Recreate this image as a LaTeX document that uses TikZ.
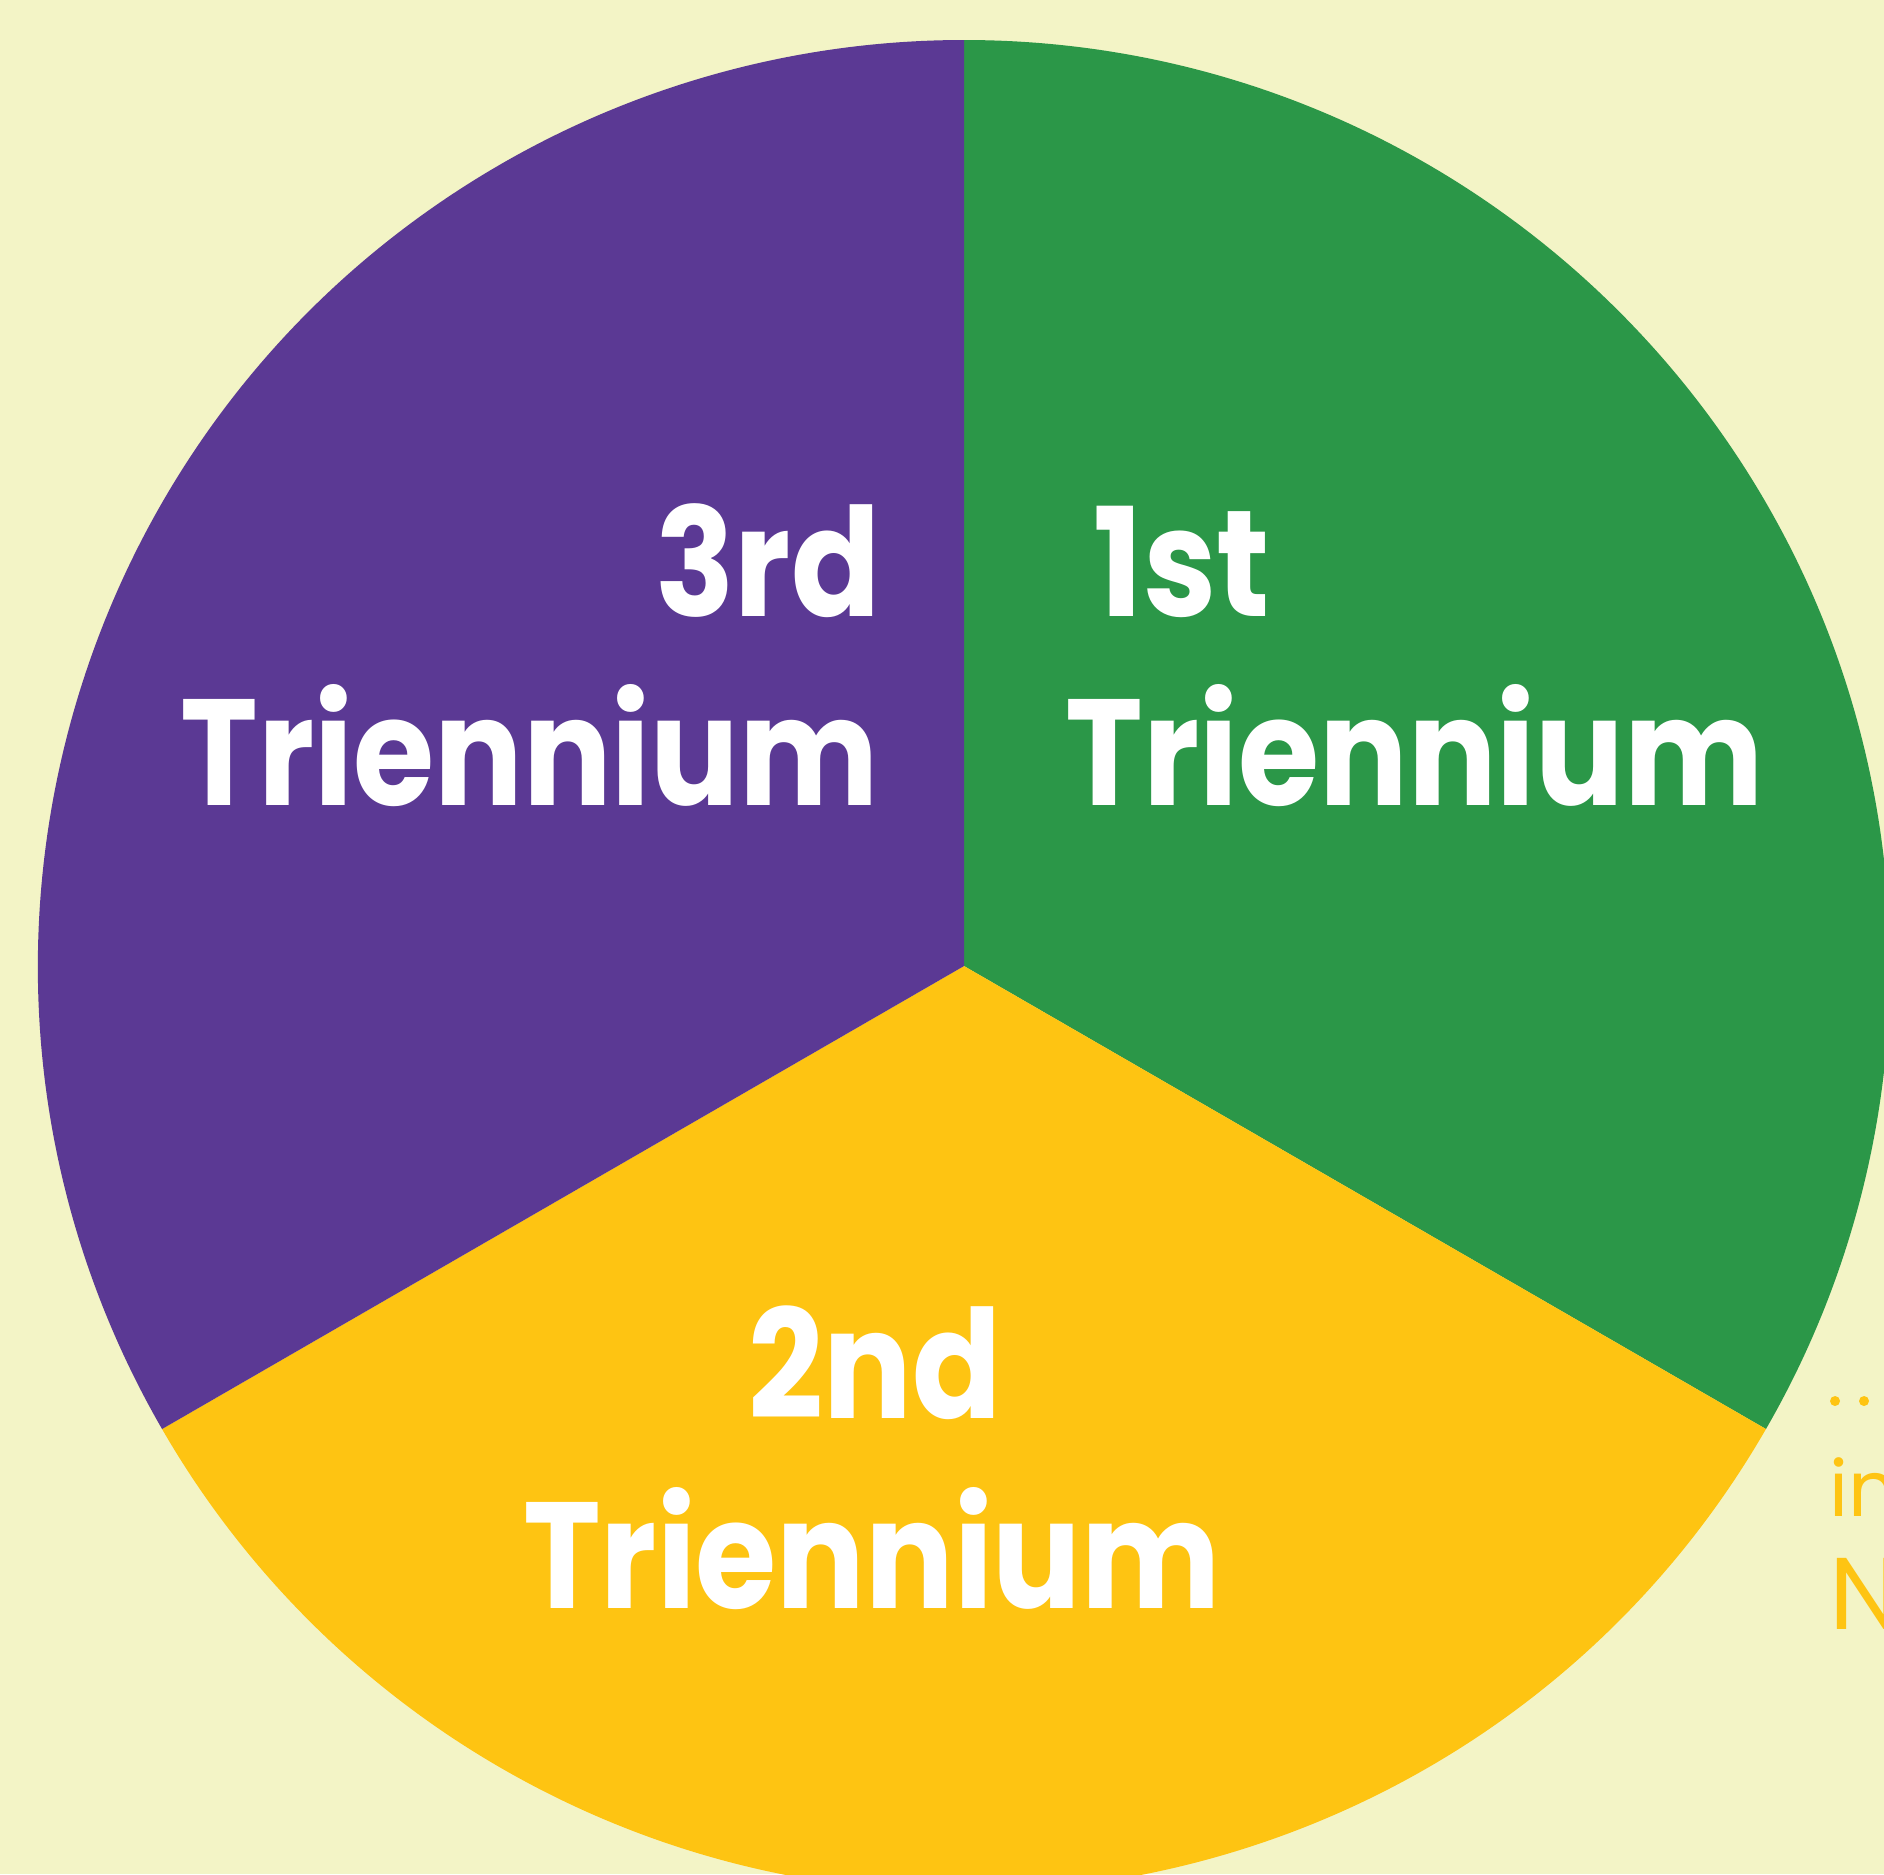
\documentclass[tikz,border=0pt]{standalone}
\usepackage{fontspec}
\setmainfont{Poppins}
\newfontfamily\tripfont{Poppins}[FakeStretch=0.87]
\usepackage{tikz}
\usetikzlibrary{positioning}

\definecolor{bgcream}{HTML}{F3F4C6}
\definecolor{triPurple}{HTML}{5B3994}
\definecolor{triGreen}{HTML}{2B9748}
\definecolor{triYellow}{HTML}{FEC412}

\begin{document}
\begin{tikzpicture}[x=0.1mm,y=-0.1mm,
  num/.style={text=white, font=\tripfont\fontsize{43}{43}\selectfont\bfseries, inner sep=0pt},
  word/.style={text=white, font=\tripfont\fontsize{43}{43}\selectfont\bfseries, inner sep=0pt},
  edgetxt/.style={text=triYellow, inner sep=0pt},
]

% --- page frame: the wheel runs off the right and bottom edges ---
\fill[bgcream] (0,0) rectangle (1884,1874);
\useasboundingbox (0,0) rectangle (1884,1874);
\clip (0,0) rectangle (1884,1874);

% --- wheel: centre and radius in pixels of the reference ---
\def\cx{964}\def\cy{966}\def\rad{926}
\coordinate (hub) at (\cx,\cy);

% three equal sectors (y axis points down, so angles run clockwise)
\fill[triGreen]  (hub) -- ++(-90:\rad) arc[start angle=-90, end angle=30, radius=\rad] -- cycle;
\fill[triYellow] (hub) -- ++(30:\rad) arc[start angle=30, end angle=150, radius=\rad] -- cycle;
\fill[triPurple] (hub) -- ++(150:\rad) arc[start angle=150, end angle=270, radius=\rad] -- cycle;

% --- sector labels ---
\node[num, anchor=base east]   (thirdnum)  at (881,616)  {3rd};
\node[word, anchor=base east]  (thirdword) at (879,805)  {Triennium};
\node[num, anchor=base west]   (firstnum)  at (1093,616) {1st};
\node[word, anchor=base west]  (firstword) at (1065,805) {Triennium};
\node[num, anchor=base]        (secondnum) at (875,1418) {2nd};
\node[word, anchor=base]       (secondword) at (872,1608) {Triennium};

% --- cut-off text at the right edge ---
\fill[triYellow] (1835,1401) circle[radius=5];
\fill[triYellow] (1864,1401) circle[radius=5];
\node[edgetxt, anchor=base west, font=\fontsize{22}{22}\selectfont] (edgein) at (1829,1516) {in};
\node[edgetxt, anchor=base west, font=\fontsize{29}{29}\selectfont] (edgeN) at (1829,1629) {N};

\end{tikzpicture}
\end{document}
